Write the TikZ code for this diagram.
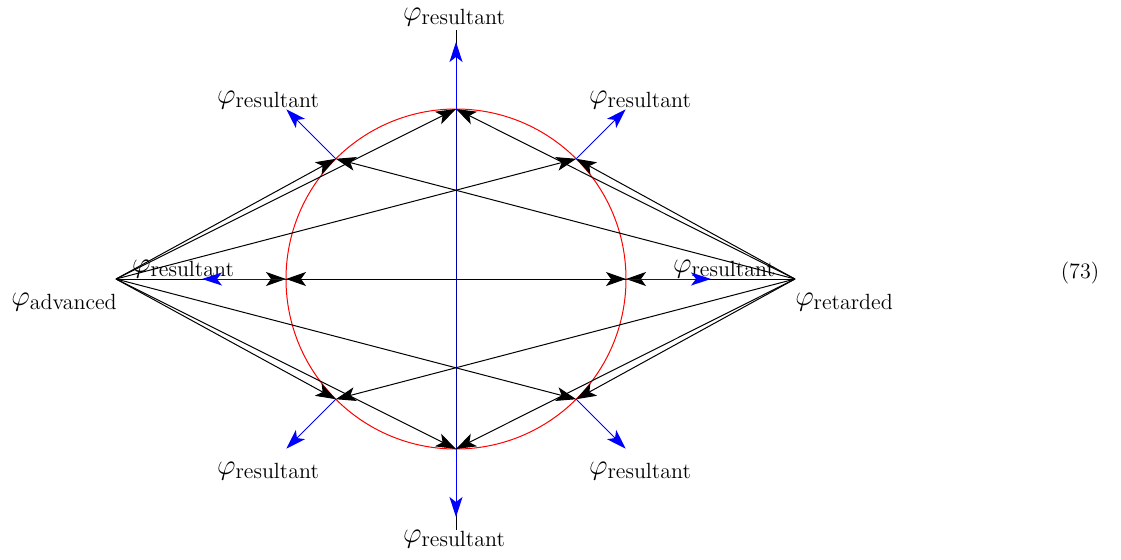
\documentclass[tikz,border=0pt]{standalone}
\usetikzlibrary{arrows.meta}

% phi with a text subscript, as in the figure
\newcommand{\phisub}[1]{{\fontsize{13.5}{16}\selectfont$\varphi$}\raisebox{-0.5ex}{\fontsize{11}{14}\selectfont #1}}

\begin{document}
\begin{tikzpicture}[x=0.5pt,y=-0.5pt,
  wave/.style={black, line width=0.5pt, -{Stealth[length=10pt,width=7pt,inset=2.5pt]}},
  res/.style={blue, line width=0.5pt, -{Stealth[length=10pt,width=6.5pt,inset=2.5pt]}},
  lbl/.style={inner sep=0pt}]
\useasboundingbox (0,0) rectangle (1121,559);
% sources and centre
\coordinate (adv) at (116,279);
\coordinate (ret) at (795,279);
\coordinate (c) at (456,279);
\foreach \nm/\a in {E/0,NE/45,N/90,NW/135,W/180,SW/225,S/270,SE/315}
  \path (c) ++(\a:85pt) coordinate (p\nm);
% labels
\node[lbl] (lN) at (454,17) {\phisub{resultant}};
\node[lbl] (lS) at (454,539) {\phisub{resultant}};
\node[lbl] (lNW) at (268,100) {\phisub{resultant}};
\node[lbl] (lNE) at (640,100) {\phisub{resultant}};
\node[lbl] (lSW) at (268,471) {\phisub{resultant}};
\node[lbl] (lSE) at (640,471) {\phisub{resultant}};
\node[lbl] (lW) at (183,269) {\phisub{resultant}};
\node[lbl] (lE) at (724,269) {\phisub{resultant}};
\node[lbl] (ladv) at (64,302) {\phisub{advanced}};
\node[lbl] (lret) at (844,302) {\phisub{retarded}};
\node[lbl] (eq) at (1080,273) {\fontsize{11}{14}\selectfont(73)};
% axis
\draw[black, line width=0.5pt] (pN |- lN.south) ++(0,-2pt) -- (pS |- lS.north);
\draw[blue!65!black, line width=0.5pt] (pN) -- (pS);
\draw[red, line width=0.5pt] (c) circle (85pt);
% waves from both sources
\foreach \nm in {E,NE,N,NW,W,SW,S,SE} {
  \draw[wave] (adv) -- (p\nm);
  \draw[wave] (ret) -- (p\nm);
}
% resultants
\path (pN) ++(90:33.5pt) coordinate (rN);
\path (pS) ++(270:34pt) coordinate (rS);
\path (pW) ++(180:42pt) coordinate (rW);
\path (pE) ++(0:42.5pt) coordinate (rE);
\foreach \nm/\a in {NE/45,NW/135,SW/225,SE/315}
  \path (p\nm) ++(\a:35pt) coordinate (r\nm);
\foreach \nm in {N,S,E,W,NE,NW,SE,SW}
  \draw[res] (p\nm) -- (r\nm);
\end{tikzpicture}
\end{document}
